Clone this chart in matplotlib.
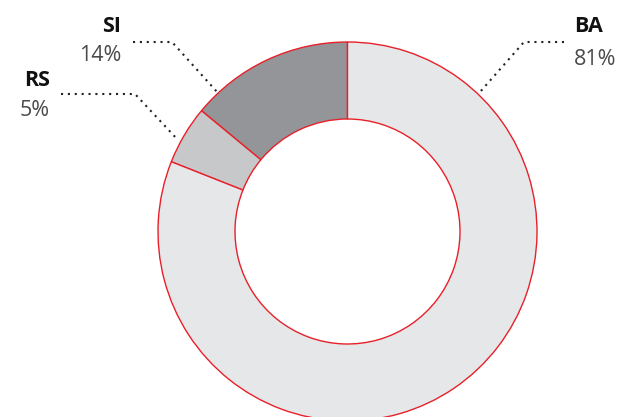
import matplotlib
matplotlib.use("Agg")
import matplotlib.pyplot as plt

labels = ["SI", "RS", "BA"]
values = [14, 5, 81]
colors = ["#939598", "#c7c8c9", "#e6e7e8"]

W, H = 627, 417
fig = plt.figure(figsize=(W / 100, H / 100), dpi=100)
ax = fig.add_axes([0, 0, 1, 1])

cx, cy, R = 347.5, H - 231.5, 189.5
ax.pie(values, colors=colors, startangle=90, counterclock=True,
       center=(cx, cy), radius=R, frame=True,
       wedgeprops=dict(width=R - 112.5, edgecolor="#e8202a", linewidth=1.0))

ax.set_xlim(0, W)
ax.set_ylim(0, H)
ax.set_aspect("equal")
ax.axis("off")

def Y(y):
    return H - y

font = "Open Sans"
dot = dict(color="#222222", linewidth=1.5, linestyle=(0, (1, 2.3)), solid_capstyle="round")

# leader lines (pixel layout)
leaders = {
    "SI": [(133, 42), (172, 42), (218, 93)],
    "RS": [(61, 94), (135, 94), (178, 140)],
    "BA": [(564, 42), (524, 42), (480, 92)],
}
text_pos = {
    "SI": (121, 'right'),
    "RS": (50, 'right'),
    "BA": (574, 'left'),
}
text_y = {"SI": (26, 55), "RS": (80, 110), "BA": (26, 59)}

for lab, val in zip(labels, values):
    pts = leaders[lab]
    ax.plot([p[0] for p in pts], [Y(p[1]) for p in pts], **dot)
    x, ha = text_pos[lab]
    y1, y2 = text_y[lab]
    ax.text(x, Y(y1), lab, ha=ha, va="center", fontsize=15.5, fontweight="bold",
            family=font, color="#111111")
    ax.text(x, Y(y2), f"{val}%", ha=ha, va="center", fontsize=15.5,
            family=font, color="#4a4a4a")

fig.savefig("out.png", dpi=100)
